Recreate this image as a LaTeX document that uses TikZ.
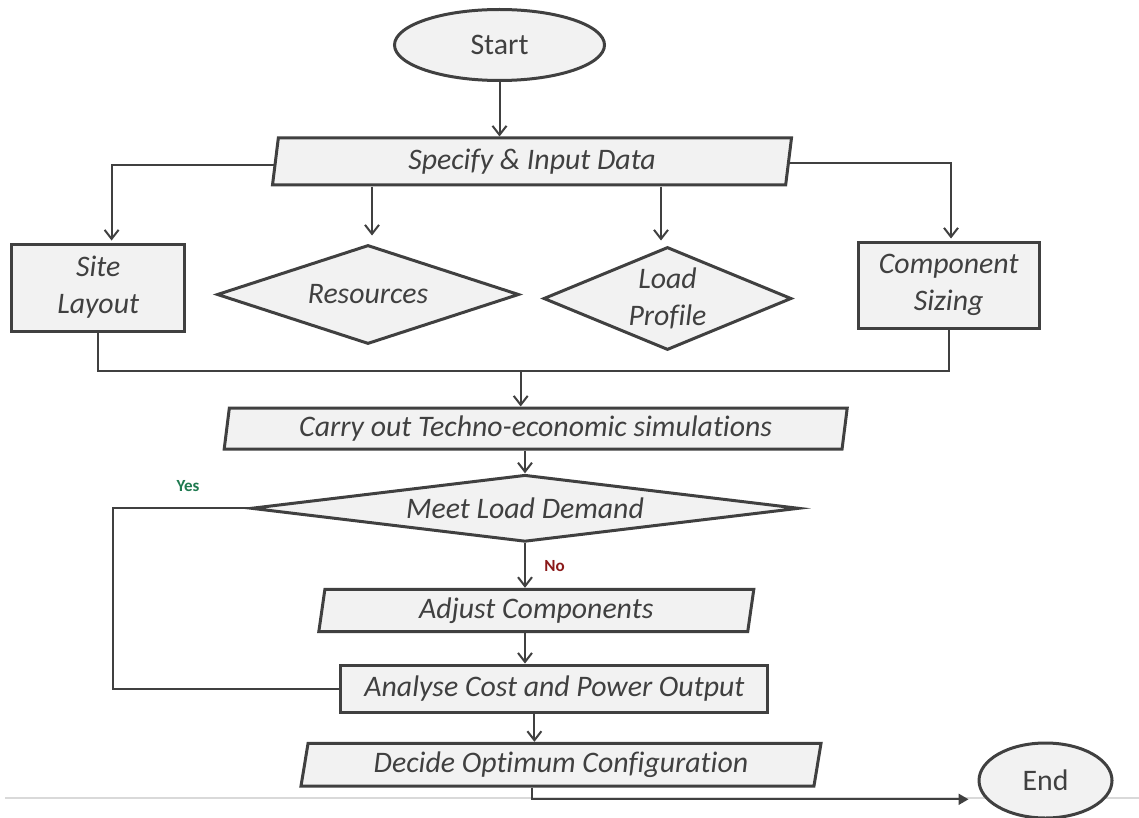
\documentclass[tikz,border=0pt]{standalone}
\usepackage{fontspec}
\setmainfont{Carlito}[Ligatures=NoCommon]
\usetikzlibrary{shapes.geometric,arrows.meta}
\definecolor{edgec}{HTML}{404040}
\definecolor{boxfill}{HTML}{F2F2F2}
\definecolor{yesc}{HTML}{1F7A50}
\definecolor{noc}{HTML}{8B1A1A}
\tikzset{
  blk/.style={draw=edgec, fill=boxfill, line width=3pt, text=edgec, inner sep=0pt, align=center,
    font=\fontsize{29.8}{37}\selectfont\itshape},
  procbox/.style={blk, rectangle},
  iobox/.style={blk, trapezium, trapezium stretches body},
  decbox/.style={blk, diamond},
  term/.style={blk, ellipse, font=\fontsize{29.8}{37}\selectfont},
  conn/.style={draw=edgec, line width=2pt},
  arr/.style={conn, -{Straight Barb[length=9pt,width=14pt,line width=2pt]}},
  arrfill/.style={conn, -{Triangle[length=10pt,width=11pt]}},
  lbl/.style={font=\fontsize{17}{20}\selectfont\bfseries, inner sep=0pt}
}
\begin{document}
\begin{tikzpicture}[x=1pt,y=-1pt]
\useasboundingbox (0,0) rectangle (1139,818);
\fill[white] (0,0) rectangle (1139,818);
\draw[black!15, line width=1.2pt] (5,798) -- (1139,798);

\node[term, minimum width=210, minimum height=71] (start) at (499.5,45) {Start};
\node[iobox, trapezium left angle=77, trapezium right angle=103, minimum width=519, minimum height=47] (spec) at (532,161.5) {Specify \& Input Data};
\node[procbox, minimum width=173, minimum height=87] (site) at (98.2,287.5) {Site\\Layout};
\node[decbox, shape aspect=3.07, minimum width=302, minimum height=99] (res) at (368,294.5) {Resources};
\node[decbox, shape aspect=2.43, minimum width=248, minimum height=103] (load) at (667.5,298.5) {Load\\Profile};
\node[procbox, minimum width=181, minimum height=86] (comp) at (948.7,285) {Component\\Sizing};
\node[iobox, trapezium left angle=78.6, trapezium right angle=101.4, minimum width=623, minimum height=41] (carry) at (535.7,428.5) {Carry out Techno-economic simulations};
\node[decbox, shape aspect=8.18, minimum width=548, minimum height=67] (meet) at (525,508.3) {Meet Load Demand};
\node[iobox, trapezium left angle=76.7, trapezium right angle=103.3, minimum width=435, minimum height=42.4] (adjust) at (536.3,610.5) {Adjust Components};
\node[procbox, minimum width=427, minimum height=47.7] (analyse) at (554.4,688.9) {Analyse Cost and Power Output};
\node[iobox, trapezium left angle=74.7, trapezium right angle=105.3, minimum width=520, minimum height=42.7] (decide) at (561,764.7) {Decide Optimum Configuration};
\node[term, minimum width=133, minimum height=75] (end) at (1045.5,780.5) {End};

\coordinate (join) at (520.7,371);
\coordinate (loop) at (112.7,690);

\node[lbl, text=yesc] (yes) at (188,486) {Yes};
\node[lbl, text=noc] (no) at (554.5,565.7) {No};

\draw[arr] (start.south) -- (start.south |- spec.north);
\draw[arr] ([yshift=-4pt]spec.west) -| ([xshift=13.4pt,yshift=2pt]site.north);
\draw[arr, shorten >=8pt] ([xshift=4pt]res.north |- spec.south) -- ([xshift=4pt]res.north);
\draw[arr, shorten >=5pt] ([xshift=-6.5pt]load.north |- spec.south) -- ([xshift=-6.5pt]load.north);
\draw[arr] ([yshift=-1.5pt]spec.east) -| ([xshift=2.3pt,yshift=2pt]comp.north);

\draw[conn] (site.south) |- (join) -| (comp.south);
\draw[arr] (join) -- (join |- carry.north);

\draw[arr] (meet.north |- carry.south) -- (meet.north);
\draw[conn] (meet.west) -| (loop |- analyse.west) -- (analyse.west);
\draw[arr] (meet.south) -- (meet.south |- adjust.north);
\draw[arr] (meet.south |- adjust.south) -- (meet.south |- analyse.north);
\draw[arr] ([xshift=-20pt]analyse.south) -- ([xshift=-20pt]analyse.south |- decide.north);
\draw[arrfill] ([xshift=-29.4pt]decide.south) |- ([xshift=-9pt,yshift=-18.8pt]end.west);
\end{tikzpicture}
\end{document}
